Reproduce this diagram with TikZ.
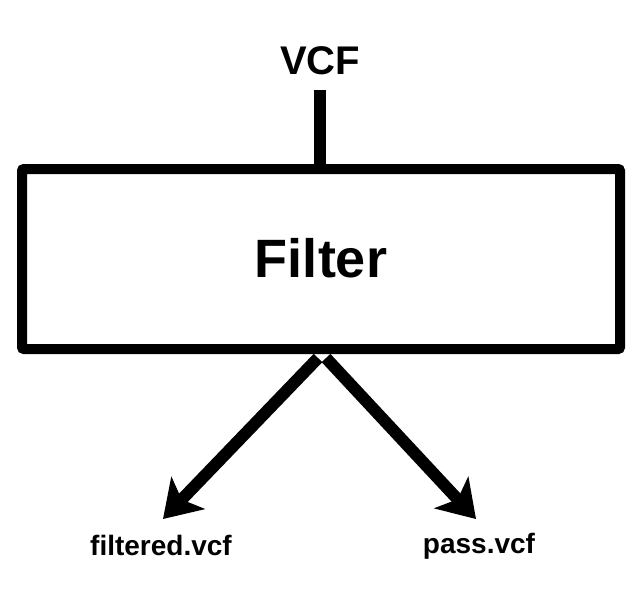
\documentclass[tikz,border=0pt]{standalone}
\usepackage{fontspec}
\setmainfont{Liberation Sans}
\usetikzlibrary{arrows.meta}

\tikzset{
  lbl/.style={font=\bfseries, inner sep=0pt, anchor=base},
  fatarrow/.style={line width=12pt, -{Stealth[length=36pt, width=46pt, inset=9pt]}}
}

\begin{document}
\begin{tikzpicture}[x=1pt, y=-1pt]
  \useasboundingbox (0,0) rectangle (640,592);
  % input and box
  \node[lbl, font=\bfseries\fontsize{40}{44}\selectfont] (vcf) at (320,74) {VCF};
  \node[draw, line width=10pt, rounded corners=2pt, minimum width=598pt, minimum height=180pt,
        inner sep=0pt] (filter) at (321,259) {};
  \node[lbl, font=\bfseries\fontsize{54}{60}\selectfont] (name) at (321,277) {Filter};
  \coordinate (in) at (320,90);
  \draw[line width=12pt] (in) -- (in |- filter.north);
  % outputs
  \node[lbl, font=\bfseries\fontsize{28}{32}\selectfont] (filt) at (161,555) {filtered.vcf};
  \node[lbl, font=\bfseries\fontsize{28}{32}\selectfont] (pass) at (479,553) {pass.vcf};
  \coordinate (tipL) at (163,519);
  \coordinate (tipR) at (476,519);
  \draw[fatarrow] ([xshift=-3pt, yshift=-4pt]filter.south) -- (tipL);
  \draw[fatarrow] ([xshift=5pt, yshift=-4pt]filter.south) -- (tipR);
\end{tikzpicture}
\end{document}
